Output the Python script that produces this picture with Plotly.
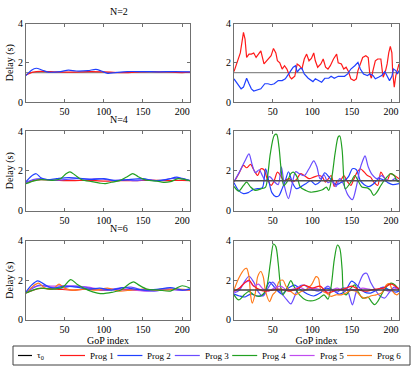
import plotly.graph_objects as go
from plotly.subplots import make_subplots

# reference delay
TAU0 = 1.5
GOP = [1, 210]

# ---------- N=2 ----------
l2_p1_x = [1, 10, 20, 40, 60, 80, 100, 120, 140, 160, 180, 200, 210]
l2_p1_y = [1.38, 1.52, 1.56, 1.53, 1.52, 1.55, 1.54, 1.5, 1.52, 1.55, 1.53, 1.5, 1.52]
l2_p2_x = [1, 8, 14, 22, 30, 45, 55, 65, 80, 90, 97, 105, 115, 130, 150, 170, 190, 210]
l2_p2_y = [1.35, 1.62, 1.72, 1.62, 1.52, 1.55, 1.62, 1.58, 1.6, 1.66, 1.58, 1.46, 1.5, 1.55, 1.55, 1.54, 1.55, 1.54]

r2_p1_x = [1, 6, 9, 13, 15, 17, 20, 23, 26, 29, 33, 35, 39, 44, 48, 51, 54, 56, 59, 62,
           65, 68, 72, 74, 78, 81, 84, 87, 90, 93, 96, 99, 102, 104, 107, 111, 114, 117, 120, 123,
           127, 131, 133, 137, 140, 143, 146, 149, 153, 156, 158, 161, 164, 168, 171, 173, 175, 177, 180, 183,
           187, 189, 190, 193, 195, 197, 199, 201, 202, 204, 206, 210]
r2_p1_y = [1.55, 2.1, 2.5, 3.55, 3.2, 2.27, 2.44, 2.44, 2.5, 2.27, 2.5, 2.6, 1.94, 2.19, 2.36, 2.73, 2.5, 2.1, 2.0, 1.68,
           1.85, 1.68, 1.26, 1.18, 1.31, 1.94, 1.85, 1.68, 2.19, 2.44, 2.1, 2.22, 2.5, 2.1, 1.77, 1.94, 2.19, 1.77, 1.68, 1.85,
           2.19, 2.44, 2.0, 1.94, 1.68, 1.77, 1.55, 1.18, 1.09, 1.18, 1.6, 1.94, 2.27, 2.36, 2.27, 1.43, 1.21, 1.6, 2.1, 2.19,
           2.19, 1.52, 1.26, 1.6, 1.94, 2.5, 2.83, 2.5, 1.52, 0.76, 1.35, 1.94]
r2_p2_x = [1, 6, 10, 13, 17, 20, 23, 26, 31, 35, 40, 44, 48, 52, 57, 62, 66, 69, 73, 76,
           79, 81, 84, 87, 90, 95, 98, 101, 104, 108, 112, 116, 121, 124, 128, 133, 137, 141, 145, 149,
           154, 158, 161, 165, 170, 173, 177, 180, 184, 188, 192, 195, 198, 201, 203, 206, 208, 210]
r2_p2_y = [1.18, 0.93, 0.67, 0.76, 1.21, 0.93, 0.67, 0.56, 0.64, 0.67, 0.93, 0.93, 0.88, 0.93, 1.09, 1.09, 1.18, 1.38, 1.6, 1.77,
           1.85, 1.52, 1.68, 1.72, 1.43, 1.21, 1.13, 1.04, 1.18, 1.09, 1.01, 1.21, 1.21, 1.31, 1.21, 1.31, 1.31, 1.31, 1.43, 1.68,
           1.85, 2.02, 1.68, 1.43, 1.35, 1.43, 1.35, 1.18, 1.26, 1.35, 1.55, 1.31, 1.09, 1.31, 1.68, 1.6, 1.43, 1.6]

# ---------- N=4 ----------
l4_p1_x = [1, 10, 20, 40, 60, 80, 100, 120, 140, 160, 180, 200, 210]
l4_p1_y = [1.4, 1.5, 1.55, 1.52, 1.5, 1.52, 1.48, 1.5, 1.5, 1.53, 1.5, 1.52, 1.5]
l4_p2_x = [1, 7, 14, 20, 28, 40, 55, 70, 85, 100, 115, 130, 150, 165, 180, 193, 200, 210]
l4_p2_y = [1.45, 1.7, 1.85, 1.65, 1.55, 1.6, 1.65, 1.62, 1.55, 1.6, 1.5, 1.55, 1.6, 1.5, 1.55, 1.68, 1.6, 1.5]
l4_p3_x = [1, 10, 20, 35, 50, 65, 80, 95, 110, 125, 140, 155, 170, 185, 200, 210]
l4_p3_y = [1.4, 1.55, 1.6, 1.52, 1.55, 1.6, 1.58, 1.6, 1.52, 1.55, 1.5, 1.55, 1.5, 1.6, 1.62, 1.5]
l4_p4_x = [1, 10, 20, 35, 45, 52, 57, 63, 72, 85, 95, 102, 110, 120, 130, 137, 144, 155, 168, 176, 185, 195, 210]
l4_p4_y = [1.35, 1.48, 1.55, 1.52, 1.6, 1.85, 1.94, 1.8, 1.55, 1.45, 1.38, 1.35, 1.42, 1.5, 1.7, 1.86, 1.7, 1.52, 1.48, 1.42, 1.45, 1.6, 1.5]

r4_p1_x = [1, 7, 13, 17, 22, 26, 31, 35, 39, 43, 48, 52, 56, 60, 64, 71, 75, 81, 85, 90,
           96, 102, 109, 113, 117, 124, 128, 132, 136, 140, 145, 149, 153, 157, 161, 166, 170, 174, 178, 183,
           187, 191, 195, 199, 204, 210]
r4_p1_y = [1.43, 1.85, 2.27, 2.15, 2.32, 2.05, 1.76, 2.1, 2.05, 1.6, 1.26, 1.51, 1.93, 1.76, 1.51, 1.6, 1.43, 1.6, 1.85, 1.76,
           1.6, 1.68, 1.76, 1.68, 1.43, 1.76, 1.21, 1.51, 1.51, 1.76, 1.43, 1.26, 1.6, 1.93, 2.1, 1.93, 1.76, 1.68, 1.43, 1.26,
           1.93, 1.68, 1.51, 1.85, 1.76, 1.6]
r4_p2_x = [1, 7, 13, 19, 25, 31, 37, 41, 45, 49, 54, 58, 62, 66, 70, 75, 80, 86, 92, 98,
           104, 110, 116, 121, 126, 131, 136, 141, 146, 151, 156, 161, 166, 172, 178, 184, 190, 196, 202, 210]
r4_p2_y = [1.4, 1.0, 0.85, 0.9, 1.05, 1.1, 1.15, 2.1, 1.5, 0.9, 0.7, 0.75, 1.1, 1.5, 1.95, 1.4, 1.1, 1.2, 1.35, 1.5,
           1.3, 1.45, 1.9, 1.7, 1.45, 1.3, 1.4, 1.5, 1.7, 2.1, 2.05, 1.5, 1.3, 1.2, 1.35, 1.6, 1.55, 1.4, 1.3, 1.35]
r4_p3_x = [1, 8, 15, 20, 24, 28, 33, 37, 41, 46, 52, 57, 61, 65, 70, 75, 79, 84, 90, 96,
           102, 106, 110, 115, 120, 125, 130, 135, 140, 145, 151, 156, 160, 164, 167, 171, 176, 182, 188, 194,
           200, 205, 210]
r4_p3_y = [1.45, 1.95, 2.5, 2.85, 2.3, 1.9, 2.05, 1.75, 1.5, 1.7, 1.45, 1.3, 2.2, 1.2, 0.6, 1.4, 1.95, 1.85, 1.75, 2.1,
           2.5, 2.2, 1.6, 1.8, 1.4, 1.5, 1.2, 1.6, 1.3, 0.8, 0.55, 1.2, 2.0, 2.5, 2.75, 2.2, 1.8, 1.6, 1.75, 1.55,
           1.5, 1.6, 1.45]
r4_p4_x = [1, 7, 13, 17, 22, 28, 35, 41, 44, 47, 52, 55, 58, 61, 64, 68, 73, 76, 81, 85,
           92, 98, 106, 113, 118, 121, 125, 129, 133, 135, 138, 140, 142, 149, 154, 158, 163, 170, 174, 178,
           182, 187, 193, 199, 204, 207, 210]
r4_p4_y = [1.21, 0.97, 1.26, 1.43, 1.18, 1.01, 1.09, 1.18, 1.85, 2.86, 3.78, 3.83, 3.19, 1.93, 1.26, 1.43, 1.85, 1.93, 1.68, 1.18,
           1.01, 0.92, 0.96, 1.04, 1.18, 1.01, 1.68, 2.86, 3.7, 3.75, 3.03, 1.68, 1.09, 1.43, 1.76, 1.51, 1.18, 1.14, 1.01, 0.76,
           0.92, 1.26, 1.6, 1.85, 1.76, 1.51, 1.43]

# ---------- N=6 ----------
l6_p1_x = [1, 10, 20, 40, 60, 80, 100, 120, 140, 160, 180, 200, 210]
l6_p1_y = [1.35, 1.5, 1.58, 1.55, 1.5, 1.55, 1.5, 1.55, 1.5, 1.5, 1.55, 1.52, 1.5]
l6_p2_x = [1, 8, 16, 24, 35, 50, 65, 80, 95, 110, 125, 140, 155, 170, 185, 200, 210]
l6_p2_y = [1.4, 1.75, 1.97, 1.8, 1.6, 1.7, 1.65, 1.55, 1.6, 1.5, 1.62, 1.55, 1.5, 1.55, 1.62, 1.5, 1.55]
l6_p3_x = [1, 10, 18, 30, 45, 60, 75, 90, 105, 120, 135, 150, 165, 180, 195, 210]
l6_p3_y = [1.35, 1.6, 1.75, 1.65, 1.6, 1.7, 1.65, 1.55, 1.5, 1.6, 1.65, 1.5, 1.45, 1.55, 1.5, 1.55]
l6_p4_x = [1, 10, 20, 35, 48, 58, 66, 80, 92, 100, 110, 122, 132, 138, 145, 155, 170, 185, 193, 200, 210]
l6_p4_y = [1.35, 1.5, 1.6, 1.55, 1.65, 2.03, 1.8, 1.5, 1.35, 1.32, 1.38, 1.5, 1.8, 1.92, 1.75, 1.55, 1.5, 1.45, 1.6, 1.72, 1.6]
l6_p5_x = [1, 10, 20, 35, 50, 65, 80, 95, 110, 125, 140, 155, 170, 185, 200, 210]
l6_p5_y = [1.35, 1.65, 1.72, 1.7, 1.72, 1.7, 1.65, 1.55, 1.55, 1.5, 1.5, 1.45, 1.5, 1.55, 1.5, 1.5]
l6_p6_x = [1, 10, 17, 25, 35, 43, 50, 60, 75, 90, 105, 120, 135, 150, 165, 180, 195, 210]
l6_p6_y = [1.35, 1.7, 1.85, 1.6, 1.55, 1.8, 1.6, 1.5, 1.55, 1.5, 1.6, 1.45, 1.5, 1.55, 1.5, 1.5, 1.55, 1.5]

r6_p1_x = [1, 8, 14, 20, 26, 32, 40, 50, 60, 70, 80, 90, 100, 110, 120, 130, 140, 150, 160, 170, 180, 190, 200, 210]
r6_p1_y = [1.45, 1.6, 1.85, 2.0, 1.7, 1.55, 1.45, 1.5, 1.55, 1.45, 1.55, 1.75, 1.6, 1.7, 1.35, 1.5, 1.55, 1.7, 1.5, 1.45, 1.55, 1.6, 1.8, 1.55]
r6_p2_x = [1, 8, 15, 22, 30, 38, 46, 54, 62, 70, 78, 86, 94, 102, 110, 118, 126, 134, 142, 150, 158, 166, 174, 182, 190, 198, 206, 210]
r6_p2_y = [1.3, 1.2, 1.15, 1.3, 1.2, 1.25, 1.9, 1.55, 1.3, 1.6, 1.75, 1.5, 1.3, 1.2, 1.35, 1.6, 1.5, 1.3, 1.45, 1.95, 1.7, 1.4, 1.35, 1.5, 1.65, 1.5, 1.4, 1.45]
r6_p3_x = [1, 8, 14, 20, 26, 32, 38, 44, 50, 56, 62, 68, 73, 78, 84, 90, 96, 102, 108, 114,
           120, 126, 132, 138, 144, 148, 151, 155, 160, 165, 169, 174, 180, 186, 192, 198, 204, 210]
r6_p3_y = [1.35, 1.5, 1.9, 2.2, 1.9, 1.4, 1.2, 1.6, 1.9, 1.6, 1.3, 1.0, 0.8, 1.2, 1.7, 1.75, 1.6, 1.5, 1.45, 1.55,
           1.7, 1.5, 1.4, 1.6, 1.55, 1.1, 0.75, 1.3, 1.9, 2.3, 2.35, 1.9, 1.5, 1.2, 1.1, 1.4, 1.65, 1.5]
r6_p4_x = [1, 7, 14, 20, 26, 33, 39, 43, 47, 51, 54, 57, 60, 63, 69, 73, 77, 84, 92, 101,
           109, 115, 120, 124, 128, 132, 135, 138, 140, 143, 149, 154, 158, 164, 171, 175, 179, 183, 190, 196,
           200, 205, 210]
r6_p4_y = [1.26, 1.0, 1.26, 1.43, 1.26, 1.18, 1.35, 1.76, 2.86, 3.83, 3.7, 2.86, 1.68, 1.26, 1.68, 1.98, 1.68, 1.26, 1.0, 0.96,
           1.09, 1.26, 1.04, 1.68, 3.03, 3.78, 3.61, 2.52, 1.35, 1.26, 1.6, 1.76, 1.43, 1.09, 1.14, 0.92, 0.76, 0.92, 1.43, 1.76,
           1.85, 1.76, 1.51]
r6_p5_x = [1, 8, 14, 20, 26, 32, 38, 45, 52, 60, 68, 76, 84, 92, 100, 108, 116, 124, 132, 140, 148, 156, 164, 172, 180, 188, 196, 204, 210]
r6_p5_y = [1.4, 1.6, 1.85, 1.95, 1.7, 1.8, 1.55, 1.45, 1.6, 1.7, 1.5, 1.55, 1.65, 1.5, 1.6, 1.55, 1.45, 1.5, 1.6, 1.45, 1.55, 1.5, 1.6, 1.55, 1.5, 1.6, 1.45, 1.55, 1.6]
r6_p6_x = [1, 7, 14, 17, 20, 22, 24, 28, 31, 35, 38, 41, 46, 50, 54, 58, 63, 67, 73, 79,
           86, 92, 99, 105, 108, 111, 118, 124, 130, 137, 143, 149, 156, 162, 168, 175, 181, 188, 194, 198,
           202, 207, 210]
r6_p6_y = [1.51, 2.1, 2.55, 2.6, 2.18, 1.26, 0.84, 1.35, 2.18, 2.44, 2.18, 1.43, 0.92, 1.26, 1.43, 1.93, 2.0, 1.68, 1.43, 1.26,
           1.43, 1.51, 1.76, 2.18, 2.1, 1.51, 1.35, 1.18, 1.26, 1.26, 1.35, 1.48, 1.43, 1.18, 1.09, 1.21, 1.26, 1.35, 1.76, 1.82,
           1.43, 1.26, 1.35]

legend_names = ['τ<sub>0</sub>', 'Prog 1', 'Prog 2', 'Prog 3', 'Prog 4', 'Prog 5', 'Prog 6']
titles = ['N=2', 'N=4', 'N=6']

#####################################################################
COLORS = ['#000000', '#ff1a1a', '#2040ff', '#6a4cff', '#22a022', '#c04cf0', '#ff7a1a']
FONT = 'Liberation Serif'
W, H = 415, 368

fig = make_subplots(rows=3, cols=2)


def add(x, y, prog, row, col, shape='spline'):
    fig.add_trace(go.Scatter(x=x, y=y, mode='lines', showlegend=False,
                             line=dict(color=COLORS[prog], width=1.2, shape=shape, smoothing=0.8)),
                  row=row, col=col)


def add_tau(row, col, color, width):
    fig.add_trace(go.Scatter(x=GOP, y=[TAU0, TAU0], mode='lines', showlegend=False,
                             line=dict(color=color, width=width)), row=row, col=col)


# N=2
add_tau(1, 1, '#8c8c8c', 1.2)
add(l2_p1_x, l2_p1_y, 1, 1, 1)
add(l2_p2_x, l2_p2_y, 2, 1, 1)
add_tau(1, 2, '#8c8c8c', 1.2)
add(r2_p1_x, r2_p1_y, 1, 1, 2, 'linear')
add(r2_p2_x, r2_p2_y, 2, 1, 2, 'linear')

# N=4
add(l4_p1_x, l4_p1_y, 1, 2, 1)
add(l4_p3_x, l4_p3_y, 3, 2, 1)
add(l4_p2_x, l4_p2_y, 2, 2, 1)
add(l4_p4_x, l4_p4_y, 4, 2, 1)
add(r4_p1_x, r4_p1_y, 1, 2, 2)
add(r4_p2_x, r4_p2_y, 2, 2, 2)
add(r4_p3_x, r4_p3_y, 3, 2, 2)
add(r4_p4_x, r4_p4_y, 4, 2, 2)
add_tau(2, 2, '#505050', 1.5)

# N=6
add(l6_p1_x, l6_p1_y, 1, 3, 1)
add(l6_p5_x, l6_p5_y, 5, 3, 1)
add(l6_p3_x, l6_p3_y, 3, 3, 1)
add(l6_p6_x, l6_p6_y, 6, 3, 1)
add(l6_p2_x, l6_p2_y, 2, 3, 1)
add(l6_p4_x, l6_p4_y, 4, 3, 1)
add(r6_p2_x, r6_p2_y, 2, 3, 2)
add(r6_p3_x, r6_p3_y, 3, 3, 2)
add(r6_p4_x, r6_p4_y, 4, 3, 2)
add(r6_p6_x, r6_p6_y, 6, 3, 2)
add(r6_p5_x, r6_p5_y, 5, 3, 2)
add(r6_p1_x, r6_p1_y, 1, 3, 2)
add_tau(3, 2, '#404040', 1.5)

# axis placement (pixels -> paper)
col_px = [(26, 190), (234, 399)]
row_px = [(23.5, 102), (131, 210.5), (240.7, 319.7)]

axis_style = dict(showline=True, linecolor='#707070', linewidth=1, mirror='ticks', automargin=False,
                  ticks='inside', ticklen=3, tickcolor='#707070', showgrid=False, zeroline=False,
                  tickfont=dict(family=FONT, size=10, color='black'))

for r in range(3):
    for c in range(2):
        xd = [col_px[c][0] / W, col_px[c][1] / W]
        yd = [1 - row_px[r][1] / H, 1 - row_px[r][0] / H]
        fig.update_xaxes(domain=xd, range=GOP, tickvals=[50, 100, 150, 200], row=r + 1, col=c + 1, **axis_style)
        fig.update_yaxes(domain=yd, range=[0, 4], tickvals=[0, 2, 4], row=r + 1, col=c + 1, **axis_style)
        if c == 0:
            fig.update_yaxes(title=dict(text='Delay (s)', font=dict(family=FONT, size=10), standoff=2),
                             row=r + 1, col=c + 1)
        if r == 2:
            fig.update_xaxes(title=dict(text='GoP index', font=dict(family=FONT, size=10), standoff=1),
                             row=r + 1, col=c + 1)

# panel titles
for r, t in enumerate(titles):
    fig.add_annotation(text=t, xref='paper', yref='paper', showarrow=False,
                       x=(col_px[0][0] + col_px[0][1]) / 2 / W, y=1 - (row_px[r][0] - 12) / H,
                       yanchor='middle', font=dict(family=FONT, size=10, color='black'))

# legend box at the bottom
fig.add_shape(type='rect', xref='paper', yref='paper', x0=13 / W, x1=410 / W,
              y0=1 - 365 / H, y1=1 - 346 / H, line=dict(color='#404040', width=1))
ly = 1 - 355.5 / H
for k, name in enumerate(legend_names):
    x0 = 18 if k == 0 else 60 + 57.4 * (k - 1)
    ln = 14 if k == 0 else 25
    fig.add_shape(type='line', xref='paper', yref='paper', x0=x0 / W, x1=(x0 + ln) / W,
                  y0=ly, y1=ly, line=dict(color=COLORS[k], width=1.2))
    fig.add_annotation(text=name, xref='paper', yref='paper', showarrow=False,
                       x=(x0 + ln + 3) / W, y=ly, xanchor='left', yanchor='middle',
                       font=dict(family=FONT, size=9, color='black'))

fig.update_layout(width=W, height=H, margin=dict(l=0, r=0, t=0, b=0),
                  paper_bgcolor='white', plot_bgcolor='white',
                  font=dict(family=FONT, size=10, color='black'))

# page has a default 8px body margin; drop it so the figure fills the window
fig.write_html("out.html", config={'displayModeBar': False},
               post_script="document.body.style.margin='0';document.body.style.overflow='hidden';")
